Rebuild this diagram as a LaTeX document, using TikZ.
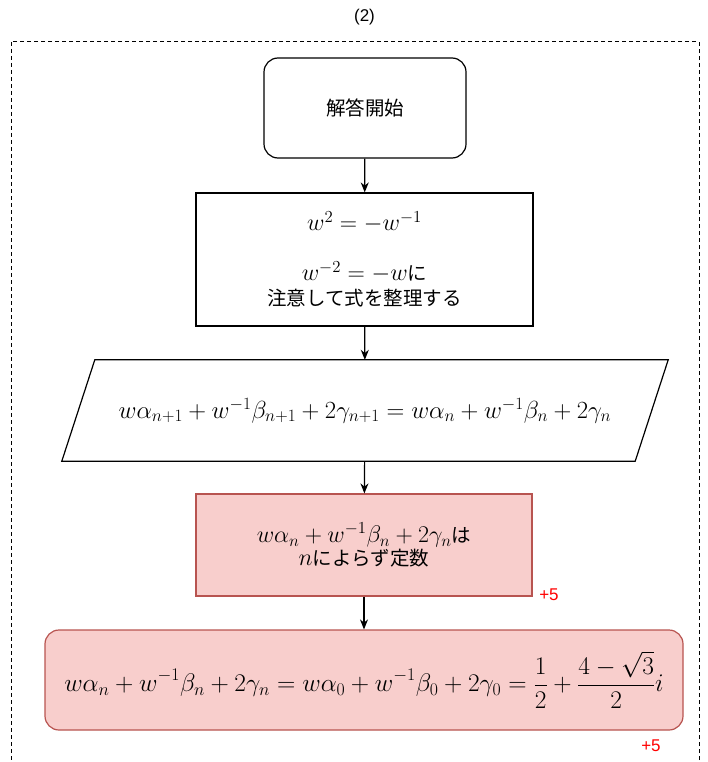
\RequirePackage{fix-cm}
\documentclass[tikz,border=0pt]{standalone}
\usepackage{fontspec}
\newfontfamily\jp{Noto Sans CJK JP}
\newfontfamily\lsans{Liberation Sans}
\usetikzlibrary{arrows.meta}
\definecolor{redfill}{HTML}{F8CECC}
\definecolor{redline}{HTML}{B85450}
\newcommand{\mth}[1]{{\fontsize{24}{26}\selectfont$#1$}}
\newcommand{\mthb}[1]{{\fontsize{24.7}{26}\selectfont$#1$}}
\newcommand{\dmth}[1]{{\fontsize{25.4}{27}\selectfont$\displaystyle #1$}}
\tikzset{
  box/.style={draw=black,line width=1.2pt,fill=white,align=center,inner sep=2pt,font=\jp\fontsize{19.5}{25}\selectfont},
  redbox/.style={box,draw=redline,fill=redfill},
  conn/.style={line width=1.2pt,-{Stealth[length=10pt,width=8pt]}},
  score/.style={text=red,font=\lsans\fontsize{17}{19}\selectfont,inner sep=0pt}
}
\begin{document}
\begin{tikzpicture}[x=1pt,y=-1pt]
\useasboundingbox (0,0) rectangle (707,762);
\begin{scope}
\clip (0,0) rectangle (707,762);
\draw[line width=1pt,dash pattern=on 4pt off 3pt] (11,42) rectangle (699,820);
\end{scope}
\node[font=\lsans\fontsize{17}{19}\selectfont] (title) at (364.5,17) {(2)};
\node[box,rounded corners=14pt,minimum width=202pt,minimum height=100pt] (start) at (365,108) {解答開始};
\node[box,minimum width=337pt,minimum height=133pt] (note) at (364.5,259.5) {\mth{w^2=-w^{-1}}\\[25pt]\mth{w^{-2}=-w}に\\注意して式を整理する};
\node[align=center,inner sep=0pt,minimum width=540pt,minimum height=101pt] (rel) at (365,410.5) {\mthb{w\alpha_{n+1}+w^{-1}\beta_{n+1}+2\gamma_{n+1}=w\alpha_n+w^{-1}\beta_n+2\gamma_n}};
\draw[line width=1.2pt,line join=miter] (rel.north west) -- ([xshift=33pt]rel.north east) -- (rel.south east) -- ([xshift=-33pt]rel.south west) -- cycle;
\node[redbox,minimum width=336pt,minimum height=102pt,font=\jp\fontsize{19.5}{23}\selectfont] (const) at (364,545) {\mth{w\alpha_n+w^{-1}\beta_n+2\gamma_n}は\\\mth{n}によらず定数};
\node[redbox,rounded corners=14pt,minimum width=638pt,minimum height=100pt] (result) at (364,680) {\dmth{w\alpha_n+w^{-1}\beta_n+2\gamma_n=w\alpha_0+w^{-1}\beta_0+2\gamma_0=\frac{1}{2}+\frac{4-\sqrt{3}}{2}i}};
\node[score] (s1) at (549,595) {+5};
\node[score] (s2) at (651,746) {+5};
\draw[conn] (start) -- (note);
\draw[conn] (note) -- (rel);
\draw[conn] (rel) -- (const);
\draw[conn] (const) -- (result);
\end{tikzpicture}
\end{document}
